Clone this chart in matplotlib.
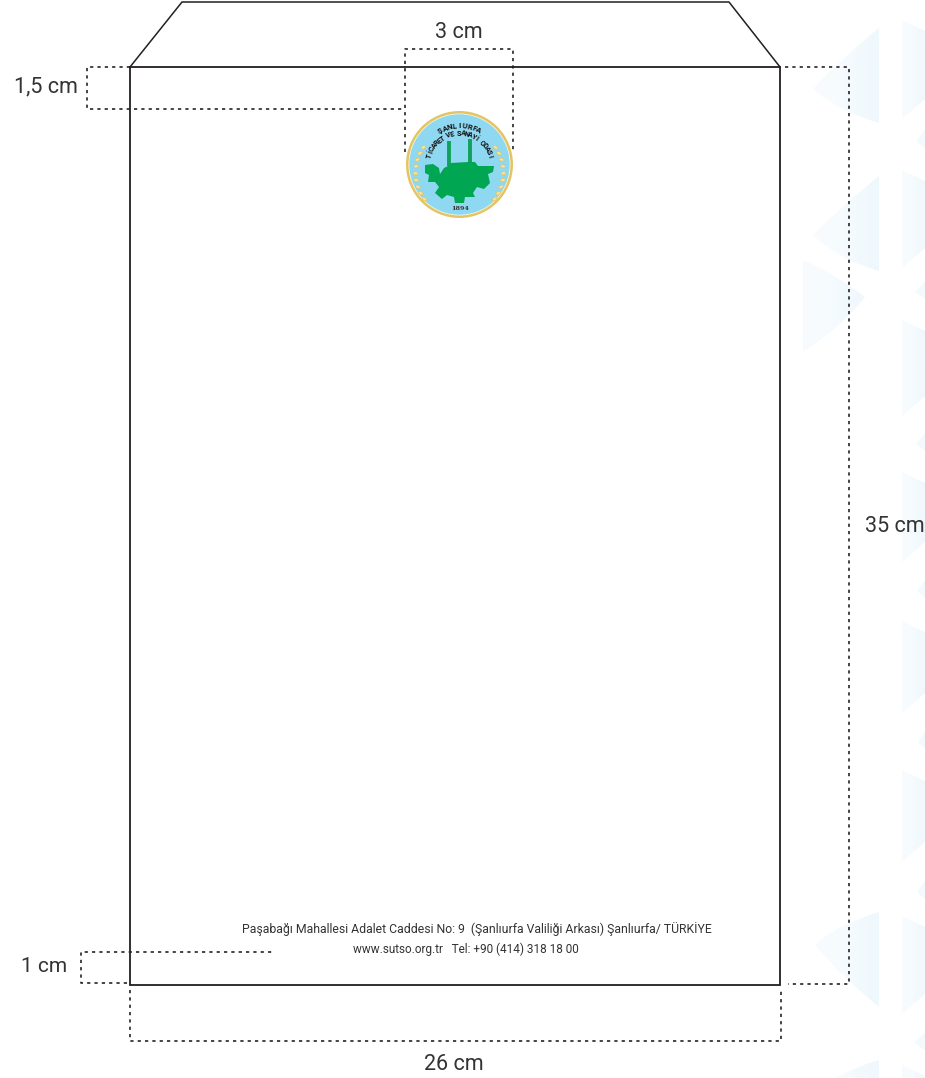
import numpy as np
import matplotlib
matplotlib.use('Agg')
import matplotlib.pyplot as plt
from matplotlib.patches import Polygon, Circle, Ellipse, PathPatch
from matplotlib.path import Path
from matplotlib.colors import LinearSegmentedColormap

W, H = 925, 1078
plt.rcParams['font.family'] = ['Roboto', 'DejaVu Sans']

ink = '#231f20'
text_col = '#333333'

# envelope outline, in picture pixels
body_x = [130, 780, 780, 130, 130]
body_y = [67, 67, 985, 985, 67]
flap_x = [130, 182, 729, 780]
flap_y = [67, 2, 2, 67]

# dotted measuring lines
dim_lines = [
    ([130, 87, 87, 405], [67, 67, 109, 109]),
    ([405, 405, 513, 513], [152, 49, 49, 152]),
    ([785, 849, 849, 788], [67, 67, 984, 984]),
    ([127, 81, 81, 274], [983, 983, 952, 952]),
    ([130, 130, 781, 781], [990, 1041, 1041, 988]),
]

labels = ['3 cm', '1,5 cm', '35 cm', '1 cm', '26 cm']
label_x = [459, 46, 895, 44, 454]
label_y = [33, 87, 526, 967, 1064]
label_size = [15.5, 15.5, 15.5, 15, 15.5]

address = 'Paşabağı Mahallesi Adalet Caddesi No: 9  (Şanlıurfa Valiliği Arkası) Şanlıurfa/ TÜRKİYE'
contact = 'www.sutso.org.tr   Tel: +90 (414) 318 18 00'

# background pattern, pale pieces of hexagons
left_tops = [28, 176, 912, 1060]
left_bots = [123, 271, 1007, 1155]
left_apex_x = [813, 813, 815, 815]
left_apex_y = [89, 235, 945, 1093]
right_top, right_bot, right_apex = 260, 352, 297
col_tops = [20, 170, 320, 472, 621, 770, 916, 1065]
col_bots = [119, 268, 416, 562, 713, 862, 1014, 1160]
notch_x = [916, 915, 916, 917, 918, 917, 914]
notch_y = [141, 292, 444, 591, 742, 892, 1043]

# logo
logo_c = (459.5, 164.5)
logo_r = 53
gear_x = [425, 433, 439, 440, 444, 450, 451, 468, 475, 478, 494, 493, 488, 490, 484, 477, 473, 475,
          465, 464, 455, 454, 447, 442, 435, 439, 435, 428, 429, 425]
gear_y = [165, 164, 168, 174, 168, 165, 163, 162, 162, 166, 166, 172, 174, 183, 189, 187, 193, 197,
          197, 203, 203, 197, 195, 199, 193, 187, 182, 182, 175, 173]
stack_x = [449, 470]
stack_top = [141, 139]
stack_bot = [166, 163]
logo_top = 'ŞANLIURFA'
logo_mid = 'TİCARET VE SANAYİ ODASI'
logo_year = '1894'

fig = plt.figure(figsize=(W / 100, H / 100), dpi=100)
ax = fig.add_axes([0, 0, 1, 1])
ax.axis('off')

fade = LinearSegmentedColormap.from_list('fade', ['#f9fcfe', '#f5fbfe', '#eff8fd'])


def soft_shape(verts, codes, x0, x1, y0, y1):
    # pale shape filled with a sideways fade
    patch = PathPatch(Path(verts, codes), fc='none', ec='none')
    ax.add_patch(patch)
    img = ax.imshow(np.linspace(0, 1, 64).reshape(1, -1), extent=(x0, x1, y1, y0), cmap=fade,
                    aspect='auto', zorder=0, vmin=0, vmax=1)
    img.set_clip_path(patch)


M, L, C, Z = Path.MOVETO, Path.LINETO, Path.CURVE3, Path.CLOSEPOLY

for ax_, t, b, ay in zip(left_apex_x, left_tops, left_bots, left_apex_y):
    if ay - t > b - ay:
        low, high = (838, b - 12), (842, t + 30)
    else:
        low, high = (842, b - 30), (838, t + 12)
    v = [(879, t), (879, b), low, (ax_, ay), high, (879, t), (879, t)]
    soft_shape(v, [M, L, C, C, C, C, Z], ax_, 879, t, b)

v = [(803, right_top), (803, right_bot), (838, right_bot - 22), (865, right_apex), (835, right_top + 14),
     (803, right_top), (803, right_top)]
soft_shape(v, [M, L, C, C, C, C, Z], 803, 865, right_top, right_bot)

for t, b in zip(col_tops, col_bots):
    v = [(902, t), (925, t + 11), (925, b - 20), (902, b), (902, t)]
    soft_shape(v, [M, L, L, L, Z], 902, 925, t, b)

for x, y in zip(notch_x, notch_y):
    ax.add_patch(Polygon([(925, y - 11), (x, y), (925, y + 7)], fc='#f3fafd', ec='none', zorder=0))

ax.set_xlim(0, W)
ax.set_ylim(H, 0)

# envelope
ax.plot(body_x, body_y, color=ink, lw=1.3, zorder=3, solid_joinstyle='miter')
ax.plot(flap_x, flap_y, color=ink, lw=1.1, zorder=3)

for xs, ys in dim_lines:
    ax.plot(xs, ys, color='#111111', lw=1.1, ls=(0, (2.1, 2.7)), zorder=2)

for s, x, y, fs in zip(labels, label_x, label_y, label_size):
    ax.text(x, y, s, ha='center', va='center', fontsize=fs, color=text_col, zorder=4)

ax.text(476.5, 929, address, ha='center', va='center', fontsize=8.85, color=text_col, zorder=4)
ax.text(466, 949, contact, ha='center', va='center', fontsize=8.5, color=text_col, zorder=4)

# logo
ax.add_patch(Circle(logo_c, logo_r + 0.5, fc='#e3c565', ec='none', zorder=5))
ax.add_patch(Circle(logo_c, logo_r - 2, fc='#fbf6dc', ec='none', zorder=5))
ax.add_patch(Circle(logo_c, logo_r - 2.8, fc='#8fd8f2', ec='none', zorder=5))
for sx, t, b in zip(stack_x, stack_top, stack_bot):
    ax.plot([sx, sx], [t, b], color='#12a15a', lw=2.8, solid_capstyle='butt', zorder=6)
ax.add_patch(Polygon(list(zip(gear_x, gear_y)), fc='#00a651', ec='none', zorder=6))

# wheat ornament either side of the ring
for side in (-1, 1):
    for ang in np.arange(-35, 40, 9):
        a = np.radians(ang)
        ex = logo_c[0] + side * 44 * np.cos(a)
        ey = logo_c[1] + 8 + 44 * np.sin(a)
        ax.add_patch(Ellipse((ex, ey), 5, 3, angle=-side * ang, fc='#f3e6ae', ec='#e3c565', lw=0.6, zorder=6))


def arc_text(s, radius, spread, size):
    # letters one by one round the top of the badge
    angles = np.linspace(-spread, spread, len(s))
    for ch, a in zip(s, angles):
        r = np.radians(a)
        ax.text(logo_c[0] + radius * np.sin(r), logo_c[1] - radius * np.cos(r), ch,
                ha='center', va='center', rotation=-a, rotation_mode='anchor',
                fontsize=size, fontweight='bold', color='#111111', zorder=7)


arc_text(logo_top, 39, 29, 5.6)
arc_text(logo_mid, 31, 74, 5.2)
ax.text(460, 208, logo_year, ha='center', va='center', fontsize=4.6, fontweight='bold', color='#333333', family='DejaVu Serif', zorder=7)

fig.savefig('out.png', dpi=100, facecolor='white')
